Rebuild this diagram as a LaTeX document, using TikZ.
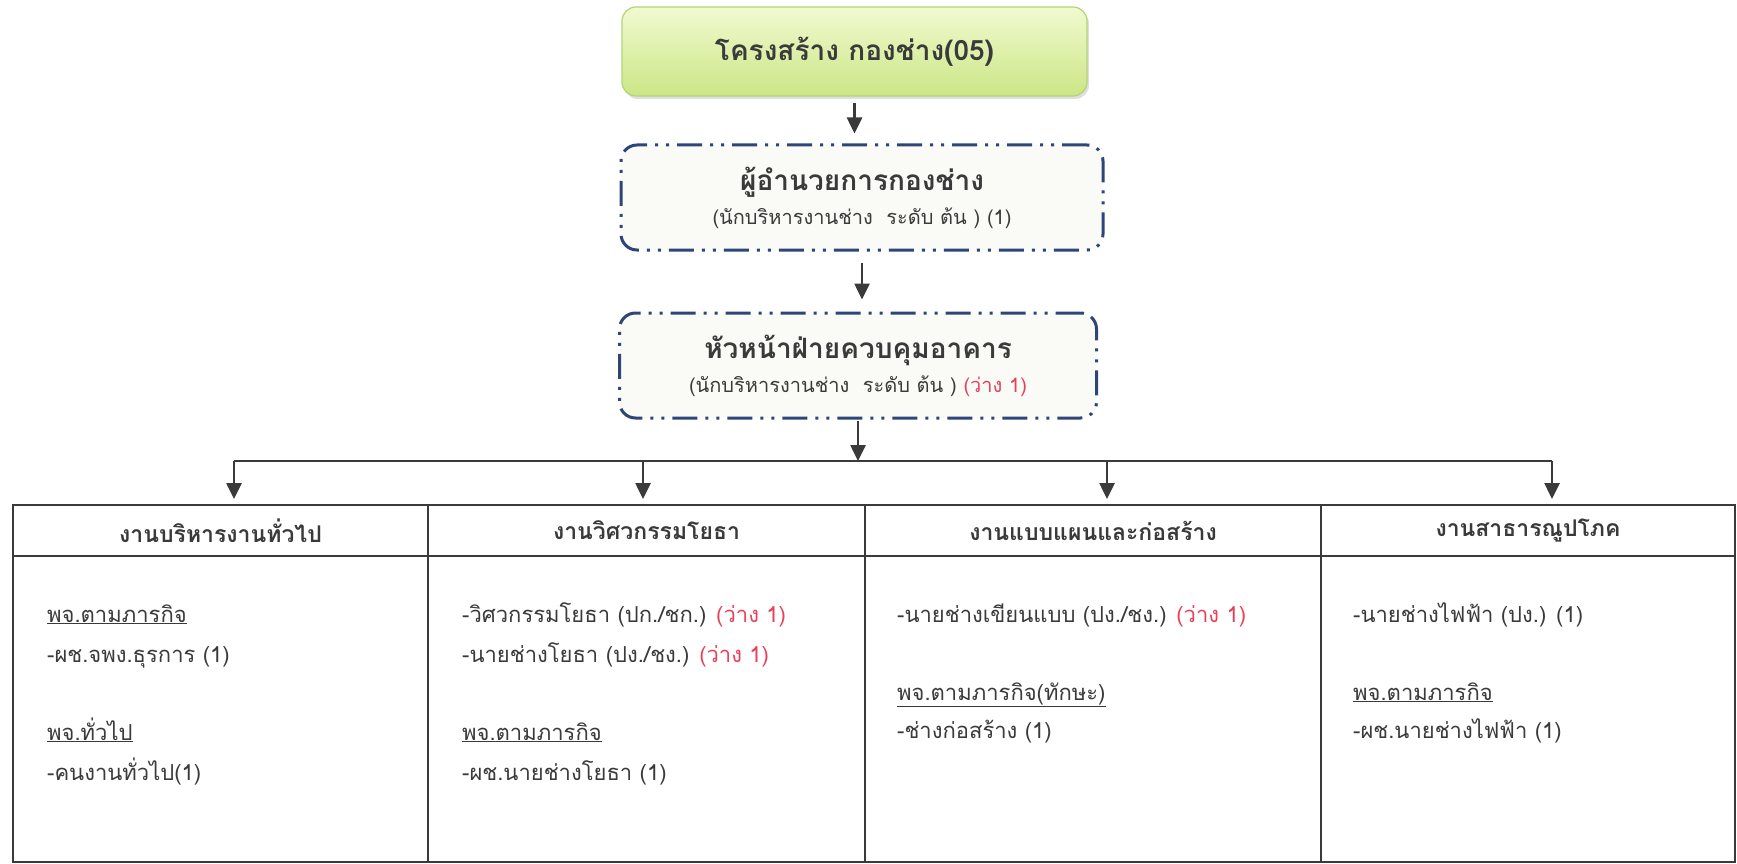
\documentclass[tikz,border=0pt]{standalone}
\usepackage{fontspec}
\setmainfont[Script=Thai]{Loma}
\usetikzlibrary{shadows,arrows.meta}
\definecolor{ink}{HTML}{3A3A3A}
\definecolor{frame}{HTML}{2E4677}
\definecolor{vac}{HTML}{E8405A}
\definecolor{gtop}{HTML}{F1FAD0}
\definecolor{gbot}{HTML}{CBE685}
\definecolor{gedge}{HTML}{B5D476}
\definecolor{boxfill}{HTML}{FAFAF7}
\begin{document}
\begin{tikzpicture}[x=1pt,y=-1pt,
  topbox/.style={rounded corners=14pt, draw=gedge, line width=1.2pt,
    top color=gtop, bottom color=gbot, minimum width=465pt, minimum height=89pt,
    drop shadow={shadow xshift=2pt, shadow yshift=-3pt, opacity=0.25},
    font=\bfseries\fontsize{28}{34}\selectfont, text=ink},
  dbox/.style={draw=frame, line width=3pt,
    dash pattern=on 25pt off 8pt on 3pt off 8pt on 3pt off 8pt,
    rounded corners=16pt, fill=boxfill, align=center, text=ink,
    font=\fontsize{20}{34}\selectfont},
  cell/.style={draw=ink, line width=1.3pt, anchor=north west, inner sep=0pt, outer sep=0pt},
  hdr/.style={cell, minimum height=51pt, font=\bfseries\fontsize{23}{28}\selectfont, text=ink},
  item/.style={anchor=base west, inner sep=0pt, font=\fontsize{22}{28}\selectfont, text=ink},
  arr/.style={-{Triangle[length=16pt,width=15pt]}, line width=2.6pt, draw=ink},
  bus/.style={line width=1.6pt, draw=ink}]
\useasboundingbox (0,0) rectangle (1737,864);
\fill[white] (0,0) rectangle (1737,864);

% top hierarchy
\node[topbox] (top) at (854.5,51.5) {โครงสร้าง กองช่าง(05)};
\node[dbox, minimum width=482pt, minimum height=105pt] (b2) at (862,197.5)
  {{\bfseries\fontsize{28}{34}\selectfont ผู้อำนวยการกองช่าง}\\(นักบริหารงานช่าง~~ระดับ ต้น ) (1)};
\node[dbox, minimum width=477pt, minimum height=105pt] (b3) at (858,365.5)
  {{\bfseries\fontsize{28}{34}\selectfont หัวหน้าฝ่ายควบคุมอาคาร}\\(นักบริหารงานช่าง~~ระดับ ต้น ) \textcolor{vac}{(ว่าง 1)}};

\draw[arr, shorten <=6pt, shorten >=10pt] (top.south) -- (top.south |- b2.north);
\draw[arr, shorten <=11pt, shorten >=12pt] (b2.south) -- (b2.south |- b3.north);

% bus
\coordinate (a1) at (234,461);
\coordinate (a2) at (643,461);
\coordinate (a3) at (1107,461);
\coordinate (a4) at (1552,461);
\coordinate (bm) at (b3.south |- a1);
\draw[arr, shorten <=1pt] (b3.south) -- (bm);
\draw[bus] (a1) -- (a4);

% table
\node[hdr, minimum width=415pt] (h1) at (13,505) {งานบริหารงานทั่วไป};
\node[hdr, minimum width=437pt] (h2) at (428,505) {งานวิศวกรรมโยธา};
\node[hdr, minimum width=456pt] (h3) at (865,505) {งานแบบแผนและก่อสร้าง};
\node[hdr, minimum width=414pt] (h4) at (1321,505) {งานสาธารณูปโภค};
\node[cell, minimum width=415pt, minimum height=306pt] (c1) at (13,556) {};
\node[cell, minimum width=437pt, minimum height=306pt] (c2) at (428,556) {};
\node[cell, minimum width=456pt, minimum height=306pt] (c3) at (865,556) {};
\node[cell, minimum width=414pt, minimum height=306pt] (c4) at (1321,556) {};

\foreach \i in {1,2,3,4} {
  \draw[arr, shorten >=6pt] (a\i) -- (a\i |- h\i.north);
}

% column 1
\node[item] (t11) at (47,622) {\underline{พจ.ตามภารกิจ}};
\node[item] (t12) at (47,662) {-ผช.จพง.ธุรการ (1)};
\node[item] (t13) at (47,740) {\underline{พจ.ทั่วไป}};
\node[item] (t14) at (47,780) {-คนงานทั่วไป(1)};
% column 2
\node[item] (t21) at (462,622) {-วิศวกรรมโยธา (ปก./ชก.) \textcolor{vac}{(ว่าง 1)}};
\node[item] (t22) at (462,662) {-นายช่างโยธา (ปง./ชง.) \textcolor{vac}{(ว่าง 1)}};
\node[item] (t23) at (462,740) {\underline{พจ.ตามภารกิจ}};
\node[item] (t24) at (462,780) {-ผช.นายช่างโยธา (1)};
% column 3
\node[item] (t31) at (897,622) {-นายช่างเขียนแบบ (ปง./ชง.) \textcolor{vac}{(ว่าง 1)}};
\node[item] (t32) at (897,700) {\underline{พจ.ตามภารกิจ(ทักษะ)}};
\node[item] (t33) at (897,738) {-ช่างก่อสร้าง (1)};
% column 4
\node[item] (t41) at (1353,622) {-นายช่างไฟฟ้า (ปง.) (1)};
\node[item] (t42) at (1353,700) {\underline{พจ.ตามภารกิจ}};
\node[item] (t43) at (1353,738) {-ผช.นายช่างไฟฟ้า (1)};
\end{tikzpicture}
\end{document}
